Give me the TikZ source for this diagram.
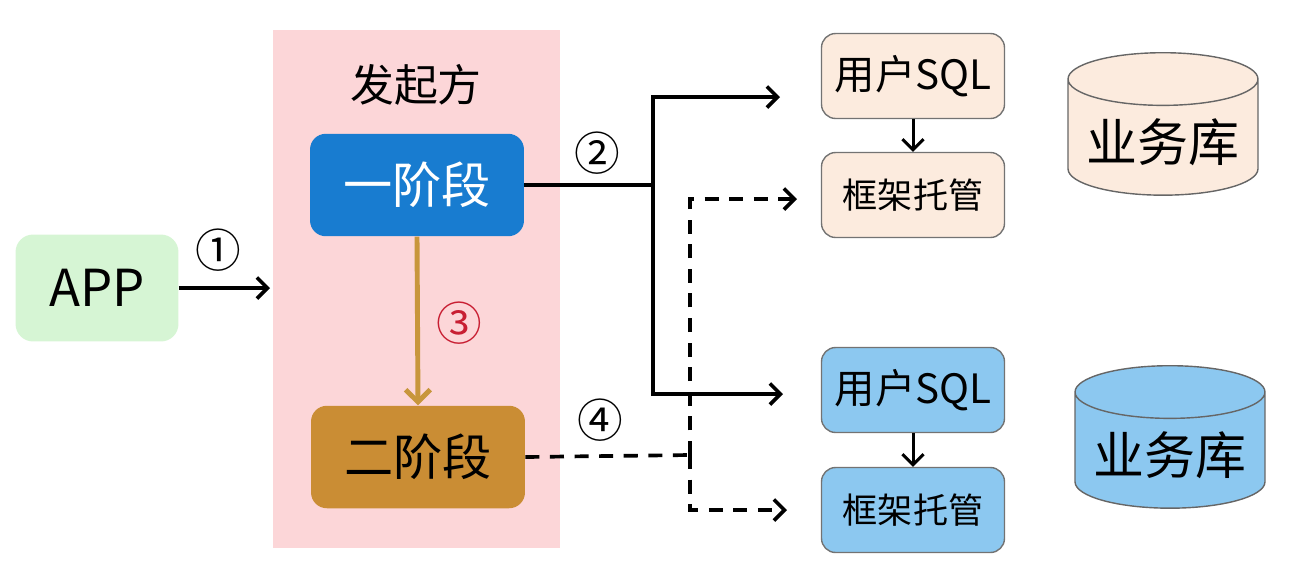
\documentclass[tikz,border=0pt]{standalone}
\usepackage{fontspec}
\setmainfont{Noto Sans CJK SC}
\usetikzlibrary{arrows.meta,shapes.geometric}
\definecolor{appgreen}{RGB}{214,245,212}
\definecolor{sidepink}{RGB}{252,214,216}
\definecolor{stageblue}{RGB}{24,124,208}
\definecolor{stagegold}{RGB}{202,141,52}
\definecolor{linkgold}{RGB}{200,150,60}
\definecolor{markred}{RGB}{200,30,50}
\definecolor{dbpeach}{RGB}{252,235,222}
\definecolor{dbblue}{RGB}{140,200,240}
\newcommand{\fs}[1]{\fontsize{#1}{#1}\selectfont}
\tikzset{
  >={Straight Barb[length=6pt,width=12pt]},
  stagebox/.style={rounded corners=9pt, minimum width=4.28cm, minimum height=2.05cm, font=\fs{28pt}},
  sqlbox/.style={draw=black!55, line width=0.8pt, rounded corners=8pt, minimum width=3.66cm, minimum height=1.7cm},
  dbcyl/.style={cylinder, shape border rotate=90, aspect=0.32, draw=black!60, line width=0.8pt,
    minimum width=3.8cm, minimum height=2.85cm, font=\fs{29pt}},
  stepmark/.style={font=\fs{26pt}},
  link/.style={line width=2.1pt},
  dashlink/.style={line width=2.1pt, dash pattern=on 8pt off 6pt}
}

\begin{document}
\begin{tikzpicture}[x=0.02cm, y=-0.02cm]
\useasboundingbox (0,0) rectangle (1292,576);
% initiator area
\fill[sidepink] (273,30) rectangle (560,548);
\node[font=\fs{25pt}] (side) at (416,85) {发起方};
\node[stagebox, fill=stageblue, text=white] (one) at (417,185) {一阶段};
\node[stagebox, fill=stagegold] (two) at (418,457) {二阶段};
\node[fill=appgreen, rounded corners=10pt, minimum width=3.26cm, minimum height=2.14cm, font=\fs{29pt}] (app) at (97,288) {APP};
% targets
\node[sqlbox, fill=dbpeach, font=\fs{23pt}] (sqlA) at (913,76) {用户SQL};
\node[sqlbox, fill=dbpeach, font=\fs{20pt}] (hostA) at (913,195) {框架托管};
\node[sqlbox, fill=dbblue, font=\fs{23pt}] (sqlB) at (913,390) {用户SQL};
\node[sqlbox, fill=dbblue, font=\fs{20pt}] (hostB) at (913,510) {框架托管};
\node[dbcyl, fill=dbpeach] (dbA) at (1163,142) {业务库};
\node[dbcyl, fill=dbblue] (dbB) at (1170,455) {业务库};
% connectors
\coordinate (appEnd) at (270,288);
\draw[link,->] (app.east) -- (appEnd);
\node[stepmark] (m1) at (218,250) {①};
\draw[line width=2.8pt, linkgold, -{Straight Barb[length=7pt,width=14pt]}] (one.south) -- (two.north);
\node[stepmark, text=markred] (m3) at (459,323) {③};
\coordinate (split2) at (653,185);
\coordinate (endA) at (780,97);
\coordinate (endB) at (783,394);
\draw[link] (one.east) -- (split2);
\draw[link,->] (split2) |- (endA);
\draw[link,->] (split2) |- (endB);
\node[stepmark] (m2) at (597,153) {②};
\coordinate (split4) at (690,455);
\coordinate (endC) at (797,199);
\coordinate (endD) at (787,510);
\draw[dashlink] (two.east) -- (split4);
\draw[dashlink,->] (split4) |- (endC);
\draw[dashlink,->] (split4) |- (endD);
\node[stepmark] (m4) at (600,420) {④};
\draw[line width=1.7pt,->] (sqlA.south) -- (hostA.north);
\draw[line width=1.7pt,->] (sqlB.south) -- (hostB.north);
\end{tikzpicture}
\end{document}
